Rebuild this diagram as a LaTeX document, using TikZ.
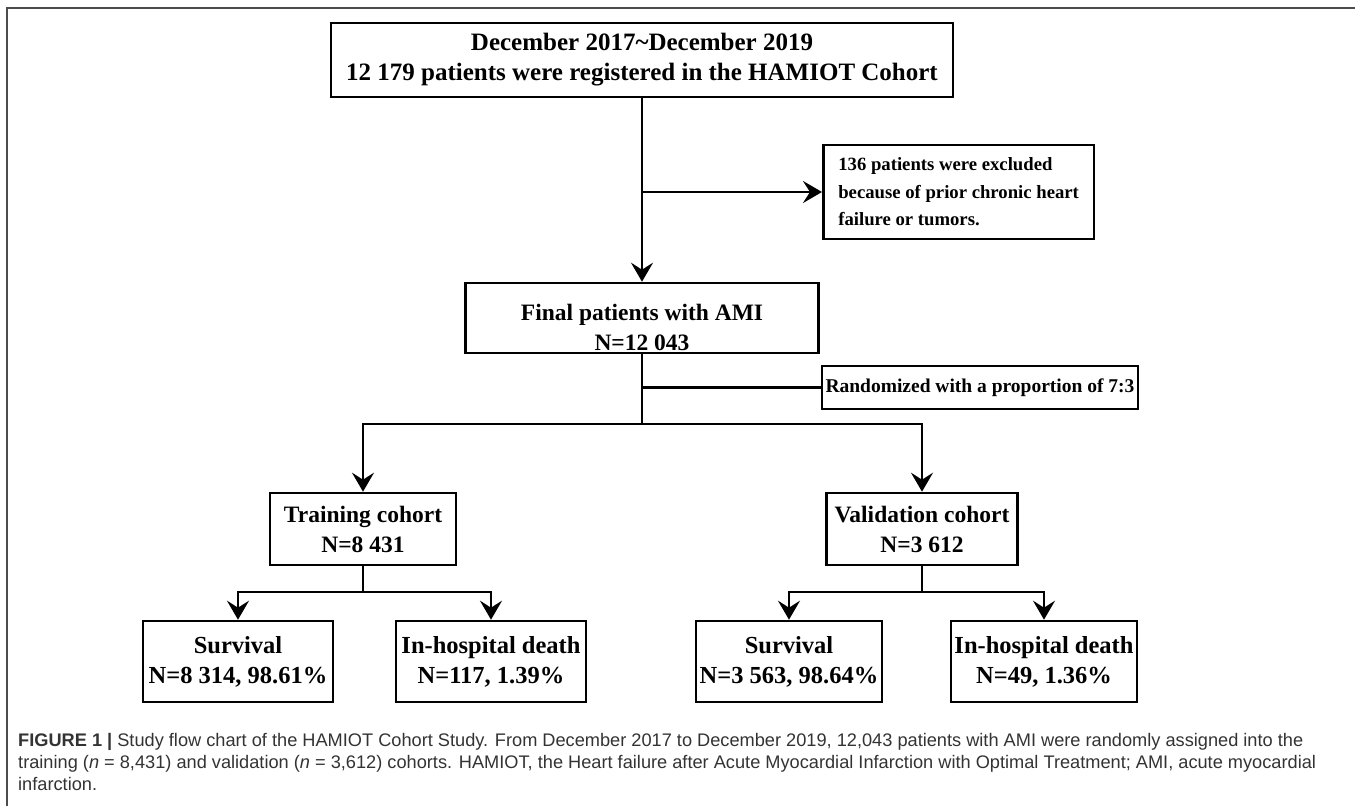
\documentclass[tikz,border=0pt]{standalone}
\usepackage{fontspec}
\setmainfont{Liberation Serif}
\newfontfamily\capfont{Liberation Sans}
\usetikzlibrary{arrows.meta, positioning}
\tikzset{
  box/.style={draw, line width=2.6pt, align=center, inner sep=0pt, font=\bfseries\fontsize{23.5}{30}\selectfont},
  endbox/.style={box, minimum height=81pt, font=\bfseries\fontsize{24.5}{30}\selectfont},
  note/.style={draw, line width=2.6pt, inner sep=0pt, font=\bfseries\fontsize{18.7}{27.5}\selectfont},
  link/.style={line width=2.4pt},
  arr/.style={link, -{Stealth[length=19pt, width=22pt, inset=7pt]}},
}

\begin{document}
\begin{tikzpicture}[x=1pt, y=-1pt]
  \useasboundingbox (0,0) rectangle (1355,806);
  % frame
  \draw[black!70, line width=1.5pt] (1355,8) -- (7,8) -- (7,806);

  % boxes
  \node (reg) [box, minimum width=622pt, minimum height=74pt, font=\bfseries\fontsize{25}{30}\selectfont] at (642,60) {December 2017\textasciitilde December 2019\\12 179 patients were registered in the HAMIOT Cohort};
  \node (excl) [note, minimum height=94pt, inner xsep=15pt, align=left, anchor=west] at (822,192) {136 patients were excluded\\because of prior chronic heart\\failure or tumors.};
  \node (final) [box, minimum width=353pt, minimum height=70pt, text height=65pt] at (642,318) {Final patients with AMI\\N=12 043};
  \node (rand) [note, minimum width=316pt, minimum height=43pt, font=\bfseries\fontsize{19.5}{24}\selectfont] at (980,387.5) {Randomized with a proportion of 7:3};
  \node (train) [box, minimum width=186pt, minimum height=72pt] at (363,529) {Training cohort\\N=8 431};
  \node (valid) [box, minimum width=191pt, minimum height=72pt] at (922,529) {Validation cohort\\N=3 612};
  \node (tsurv) [endbox, minimum width=190pt] at (238,661.5) {Survival\\N=8 314, 98.61\%};
  \node (tdeath) [endbox, minimum width=190pt] at (491,661.5) {In-hospital death\\N=117, 1.39\%};
  \node (vsurv) [endbox, minimum width=186pt] at (789,661.5) {Survival\\N=3 563, 98.64\%};
  \node (vdeath) [endbox, minimum width=186pt] at (1044,661.5) {In-hospital death\\N=49, 1.36\%};

  % forks
  \coordinate (fork) at (642,424);
  \coordinate (tfork) at (363,592);
  \coordinate (vfork) at (922,592);

  \draw[arr] (reg) -- (final);
  \draw[arr] (reg.south |- excl.west) -- (excl.west);
  \draw[link] (final) -- (fork);
  \draw[link] (final.south |- rand.west) -- (rand.west);
  \draw[arr] (fork) -| (train);
  \draw[arr] (fork) -| (valid);
  \draw[link] (train) -- (tfork);
  \draw[arr] (tfork) -| (tsurv);
  \draw[arr] (tfork) -| (tdeath);
  \draw[link] (valid) -- (vfork);
  \draw[arr] (vfork) -| (vsurv);
  \draw[arr] (vfork) -| (vdeath);

  % caption
  \node (cap) [anchor=north west, align=left, inner sep=0pt, font=\capfont\fontsize{18.2}{22}\selectfont, text=black!80] at (18,733) {{\bfseries FIGURE 1 |} Study flow chart of the HAMIOT Cohort Study. From December 2017 to December 2019, 12,043 patients with AMI were randomly assigned into the\\training (\textit{n} = 8,431) and validation (\textit{n} = 3,612) cohorts. HAMIOT, the Heart failure after Acute Myocardial Infarction with Optimal Treatment; AMI, acute myocardial\\infarction.};
\end{tikzpicture}
\end{document}
